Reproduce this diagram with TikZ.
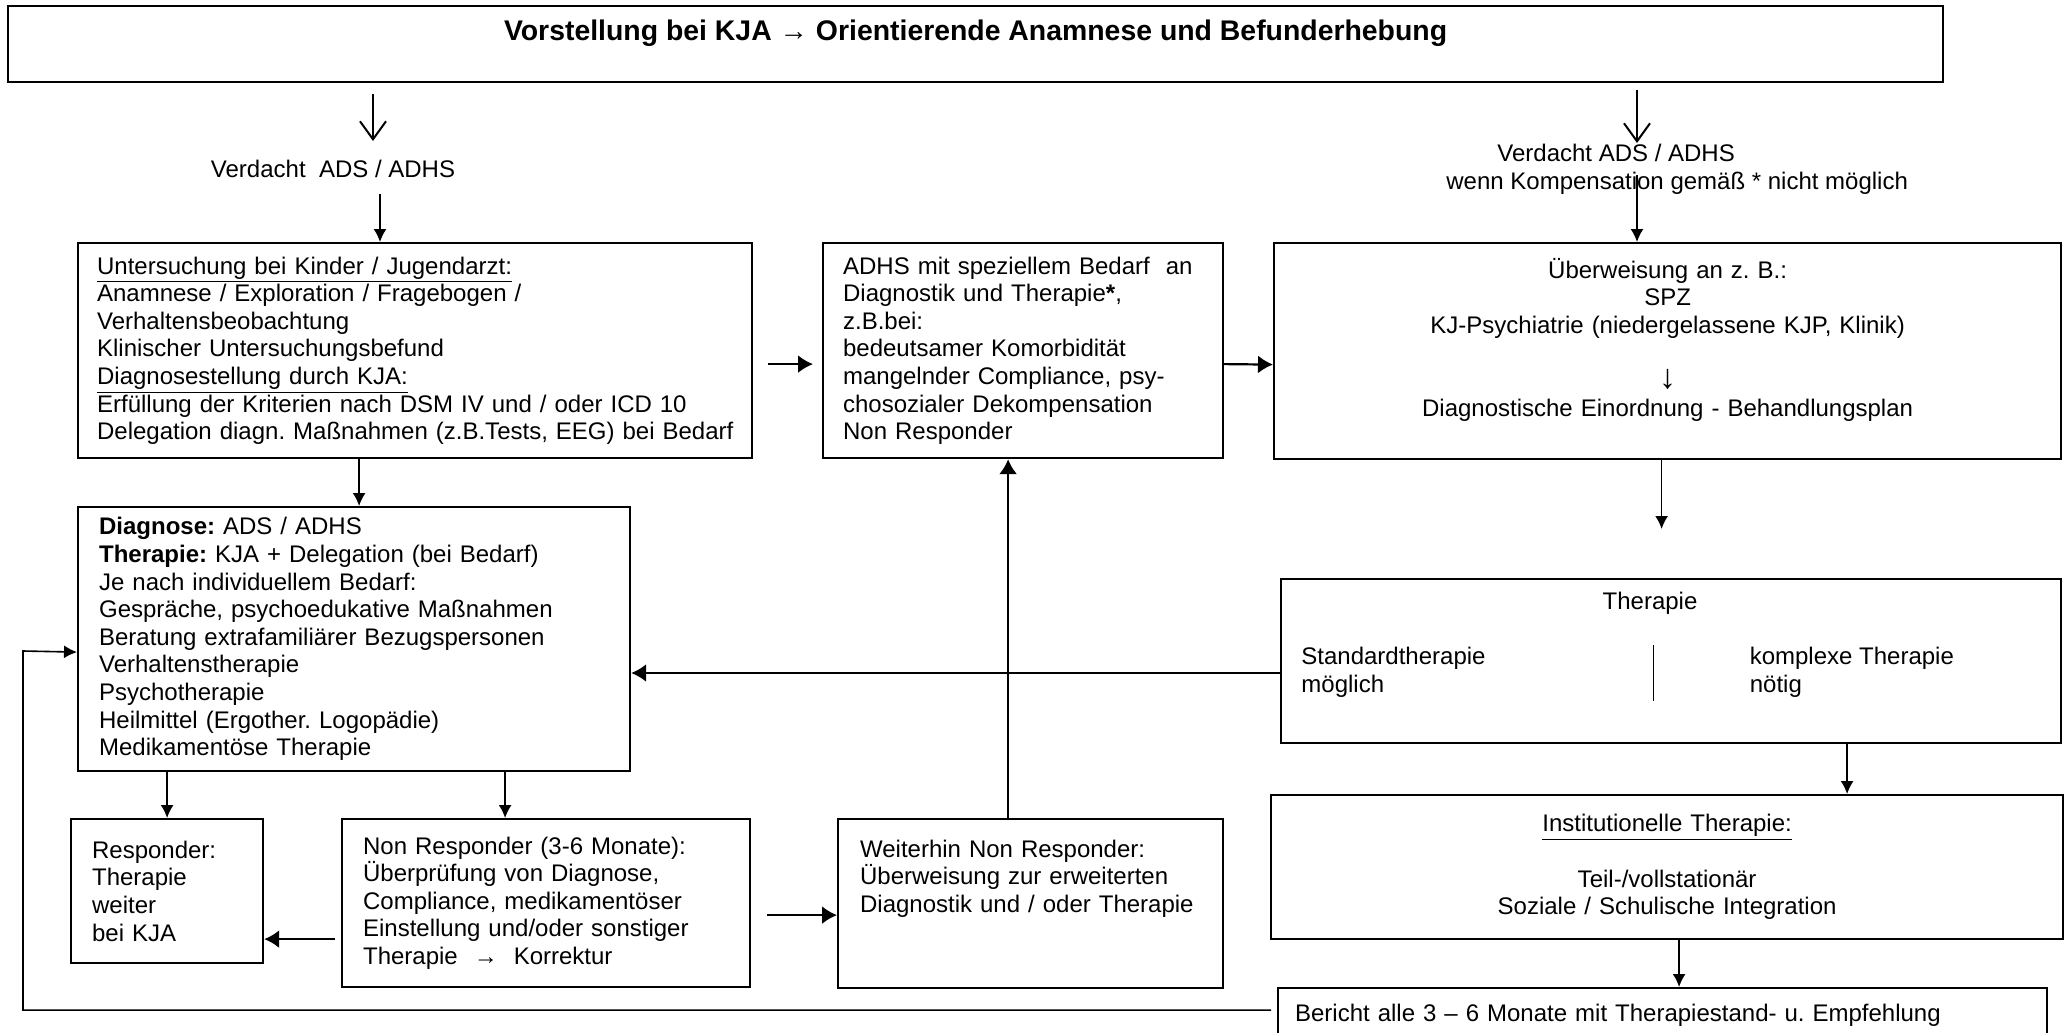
\documentclass[tikz,border=0pt]{standalone}
\usepackage{fontspec}
\setmainfont{Liberation Sans}
\usepackage{tikz}
\usetikzlibrary{arrows.meta,positioning,calc}
\newcommand{\chartfont}{\fontsize{12pt}{13.8pt}\selectfont\frenchspacing}
\tikzstyle{block}=[draw, line width=1.1pt, inner sep=0pt, anchor=north west, align=left, font=\chartfont]
\tikzstyle{centerblock}=[block, align=center]
\tikzstyle{freetext}=[inner sep=0pt, align=center, font=\chartfont]
\tikzstyle{edge}=[draw, line width=0.8pt, -{Latex[length=6.5pt,width=6.5pt]}]
\tikzstyle{thickedge}=[draw, line width=1.1pt, -{Latex[length=7.5pt,width=9pt]}]
\tikzstyle{bigedge}=[draw, line width=1pt, -{Straight Barb[length=9pt,width=13pt]}]
\begin{document}
\begin{tikzpicture}[x=0.5pt, y=-0.5pt]
    \useasboundingbox (0,0) rectangle (2067,1033);

    % Kopfzeile
    \node[centerblock, minimum width=967.5pt, minimum height=38pt] (top) at (7,5)
        {{\fontsize{14.2pt}{16pt}\bfseries Vorstellung bei KJA → Orientierende Anamnese und Befunderhebung}\\ \mbox{}};

    \node[freetext] (verdL) at (333,169) {Verdacht\ \ ADS / ADHS};
    \node[freetext, align=left, anchor=west] (verdR) at (1446,169)
        {\hspace*{25.5pt}Verdacht ADS / ADHS\\ wenn Kompensation gemäß * nicht möglich};

    \node[block, minimum width=337pt, minimum height=107.5pt, text width=318pt] (unters) at (77,242)
        {\underline{Untersuchung bei Kinder / Jugendarzt:}\\
         Anamnese / Exploration / Fragebogen /\\
         Verhaltensbeobachtung\\
         Klinischer Untersuchungsbefund\\
         \underline{Diagnosestellung durch KJA:}\\
         Erfüllung der Kriterien nach DSM IV und / oder ICD 10\\
         \mbox{Delegation diagn. Maßnahmen (z.B.Tests, EEG) bei Bedarf}};

    \node[block, minimum width=200pt, minimum height=107.5pt, text width=180pt] (spec) at (822,242)
        {ADHS mit speziellem Bedarf\ \ an\\
         Diagnostik und Therapie\textbf{*},\\
         z.B.bei:\\
         bedeutsamer Komorbidität\\
         mangelnder Compliance, psy-\\
         chosozialer Dekompensation\\
         Non Responder};

    \node[centerblock, minimum width=393.5pt, minimum height=108pt, text width=370pt] (ueber) at (1273,242)
        {Überweisung an z. B.:\\ SPZ\\ KJ-Psychiatrie (niedergelassene KJP, Klinik)\\ \mbox{}\\
         \smash{\fontsize{17pt}{13.8pt}\selectfont ↓}\\
         Diagnostische Einordnung - Behandlungsplan\\ \mbox{}};

    \node[block, minimum width=276pt, minimum height=132pt, text width=255pt] (diag) at (77,506)
        {\textbf{Diagnose:} ADS / ADHS\\
         \textbf{Therapie:} KJA + Delegation (bei Bedarf)\\
         Je nach individuellem Bedarf:\\
         Gespräche, psychoedukative Maßnahmen\\
         Beratung extrafamiliärer Bezugspersonen\\
         Verhaltenstherapie\\
         Psychotherapie\\
         Heilmittel (Ergother. Logopädie)\\
         Medikamentöse Therapie};

    \node[block, minimum width=390pt, minimum height=82pt] (ther) at (1280,578) {};
    \node[freetext] (thertitle) at (1650,603) {Therapie};
    \node[freetext, anchor=west] (therchoice) at (1301,673)
        {\begin{tabular}{@{}p{176pt}@{}|@{\hspace{48pt}}l@{}}
            Standardtherapie & komplexe Therapie\\
            möglich & nötig
         \end{tabular}};

    \node[centerblock, minimum width=396pt, minimum height=72pt, text width=376pt] (inst) at (1270,794)
        {\underline{Institutionelle Therapie:}\\ \mbox{}\\ Teil-/vollstationär\\ Soziale / Schulische Integration};

    \node[block, minimum width=96pt, minimum height=72pt, text width=75pt] (resp) at (70,818)
        {Responder:\\ Therapie\\ weiter\\ bei KJA};

    \node[block, minimum width=204pt, minimum height=84pt, text width=183pt] (nonresp) at (341,818)
        {Non Responder (3-6 Monate):\\
         Überprüfung von Diagnose,\\
         Compliance, medikamentöser\\
         Einstellung und/oder sonstiger\\
         Therapie \ → \ Korrektur};

    \node[block, minimum width=192.5pt, minimum height=84.5pt, text width=170.5pt] (weiter) at (837,818)
        {Weiterhin Non Responder:\\ Überweisung zur erweiterten\\ Diagnostik und / oder Therapie\\ \mbox{}\\ \mbox{}};

    \node[block, minimum width=384.5pt, minimum height=27pt, text width=367.5pt] (bericht) at (1277,987)
        {Bericht alle 3 – 6 Monate mit Therapiestand- u. Empfehlung};

    \coordinate (bigL) at (373,141);
    \coordinate (bigR) at (1637,143);
    \coordinate (verdLend) at (380,194);
    \coordinate (verdRend) at (1637,175);
    \coordinate (fbturn) at (23,651);

    \foreach \tip/\gap in {bigL/5.5pt, bigR/3.5pt}
        \draw[bigedge, shorten <=\gap] (top.south -| \tip) -- (\tip);

    \draw[edge] (verdLend) -- (verdLend |- unters.north);
    \draw[edge] (verdRend) -- (verdRend |- ueber.north);

    \foreach \source/\dest/\dx in {unters/diag/2.5pt, diag/resp/0pt, diag/nonresp/-20.5pt, ther/inst/90pt, inst/bericht/8.25pt}
        \draw[edge] ([xshift=\dx]\dest.north |- \source.south) -- ([xshift=\dx]\dest.north);

    \draw[edge, shorten >=24.5pt] ([xshift=-3pt]ueber.south) -- ([xshift=-3pt]ueber.south |- ther.north);

    \draw[thickedge, shorten <=7.5pt, shorten >=4.5pt] ([yshift=-6.75pt]unters.east) -- ([yshift=-6.75pt]spec.west);
    \draw[thickedge] ([yshift=-6.75pt]spec.east) -- ([yshift=-6.75pt]ueber.west);
    \draw[thickedge] (ther.west |- therchoice.west) -- (diag.east |- therchoice.west);
    \draw[thickedge, shorten <=3pt] ([yshift=-18pt]nonresp.west) -- ([yshift=-18pt]nonresp.west -| resp.east);
    \draw[thickedge, shorten <=8pt] ([yshift=-6pt]nonresp.east) -- ([yshift=-6pt]nonresp.east -| weiter.west);
    \draw[thickedge] ([xshift=-11.25pt]weiter.north) -- ([xshift=-11.25pt]weiter.north |- spec.south);

    % Rueckmeldung an KJA
    \draw[edge, shorten <=3pt] ([yshift=2.5pt]bericht.west) -| (fbturn) -- ([yshift=-6.5pt]diag.west);

\end{tikzpicture}
\end{document}
